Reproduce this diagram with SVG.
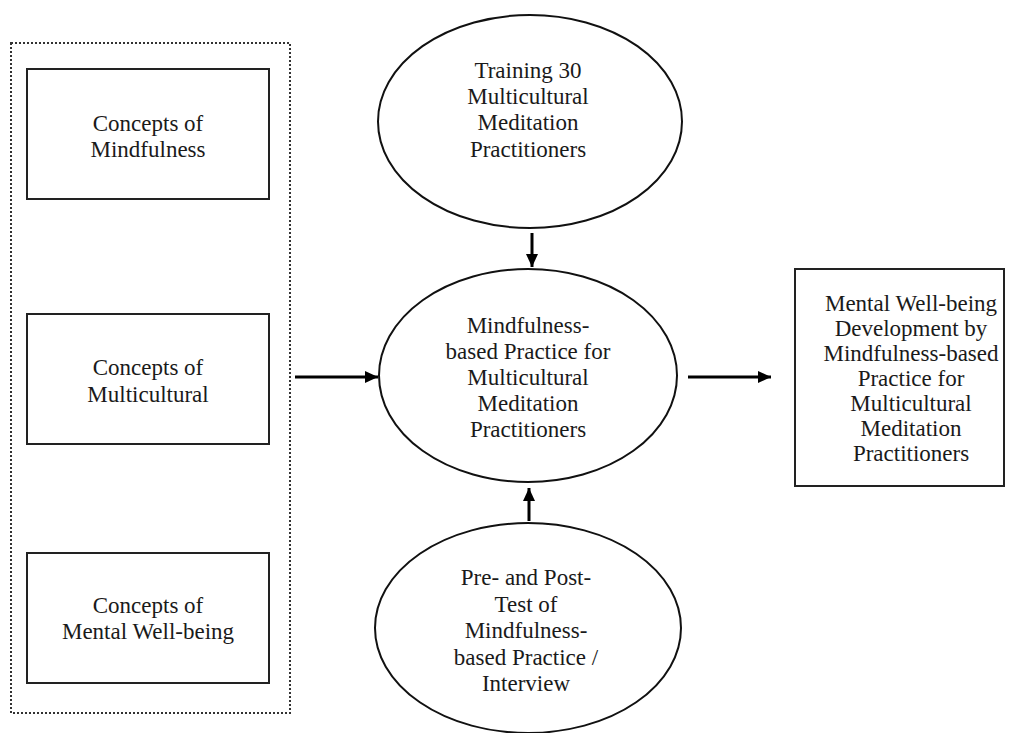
<svg xmlns="http://www.w3.org/2000/svg" width="1017" height="733" viewBox="0 0 1017 733">
  <style>
    .box { fill: #fff; stroke: #222; stroke-width: 2; }
    .ell { fill: #fff; stroke: #111; stroke-width: 2; }
    .dot { fill: none; stroke: #333; stroke-width: 2; stroke-dasharray: 2 2; }
    .lbl { font-family: "Liberation Serif", "Times New Roman", serif; font-size: 23px; fill: #1a1a1a; text-anchor: middle; }
    .conn { stroke: #000; stroke-width: 3; fill: none; }
  </style>
  <defs>
    <marker id="ah" markerUnits="userSpaceOnUse" markerWidth="13" markerHeight="12" viewBox="0 0 13 12" refX="13" refY="6" orient="auto">
      <path d="M0,0 L13,6 L0,12 Z" fill="#000"/>
    </marker>
  </defs>
  <rect width="1017" height="733" fill="#fff"/>

  <g id="group-concepts">
    <rect class="dot" x="11" y="43" width="279" height="670"/>
  </g>

  <g id="concepts-mindfulness">
    <rect class="box" x="27" y="69" width="242" height="130"/>
    <text class="lbl" x="148"><tspan x="148" y="131">Concepts of</tspan><tspan x="148" y="157">Mindfulness</tspan></text>
  </g>

  <g id="concepts-multicultural">
    <rect class="box" x="27" y="314" width="242" height="130"/>
    <text class="lbl" x="148"><tspan x="148" y="375">Concepts of</tspan><tspan x="148" y="402">Multicultural</tspan></text>
  </g>

  <g id="concepts-wellbeing">
    <rect class="box" x="27" y="553" width="242" height="130"/>
    <text class="lbl" x="148"><tspan x="148" y="613">Concepts of</tspan><tspan x="148" y="639">Mental Well-being</tspan></text>
  </g>

  <g id="training">
    <ellipse class="ell" cx="530" cy="121.5" rx="152" ry="106.5"/>
    <text class="lbl"><tspan x="528" y="78">Training 30</tspan><tspan x="528" y="104">Multicultural</tspan><tspan x="528" y="130">Meditation</tspan><tspan x="528" y="157">Practitioners</tspan></text>
  </g>

  <g id="practice">
    <ellipse class="ell" cx="528" cy="375.5" rx="149" ry="106.5"/>
    <text class="lbl"><tspan x="528" y="333">Mindfulness-</tspan><tspan x="528" y="359">based Practice for</tspan><tspan x="528" y="385">Multicultural</tspan><tspan x="528" y="411">Meditation</tspan><tspan x="528" y="437">Practitioners</tspan></text>
  </g>

  <g id="pretest">
    <ellipse class="ell" cx="528" cy="628" rx="153" ry="105"/>
    <text class="lbl"><tspan x="526" y="585">Pre- and Post-</tspan><tspan x="526" y="612">Test of</tspan><tspan x="526" y="638">Mindfulness-</tspan><tspan x="526" y="665">based Practice /</tspan><tspan x="526" y="691">Interview</tspan></text>
  </g>

  <g id="outcome">
    <rect class="box" x="795" y="269" width="209" height="217"/>
    <text class="lbl"><tspan x="911" y="311">Mental Well-being</tspan><tspan x="911" y="336">Development by</tspan><tspan x="911" y="361">Mindfulness-based</tspan><tspan x="911" y="386">Practice for</tspan><tspan x="911" y="411">Multicultural</tspan><tspan x="911" y="436">Meditation</tspan><tspan x="911" y="461">Practitioners</tspan></text>
  </g>

  <g id="connectors">
    <line class="conn" x1="532" y1="233" x2="532" y2="267" marker-end="url(#ah)"/>
    <line class="conn" x1="529" y1="521" x2="529" y2="488" marker-end="url(#ah)"/>
    <line class="conn" x1="295" y1="377" x2="378" y2="377" marker-end="url(#ah)"/>
    <line class="conn" x1="688" y1="377" x2="771" y2="377" marker-end="url(#ah)"/>
  </g>
</svg>
